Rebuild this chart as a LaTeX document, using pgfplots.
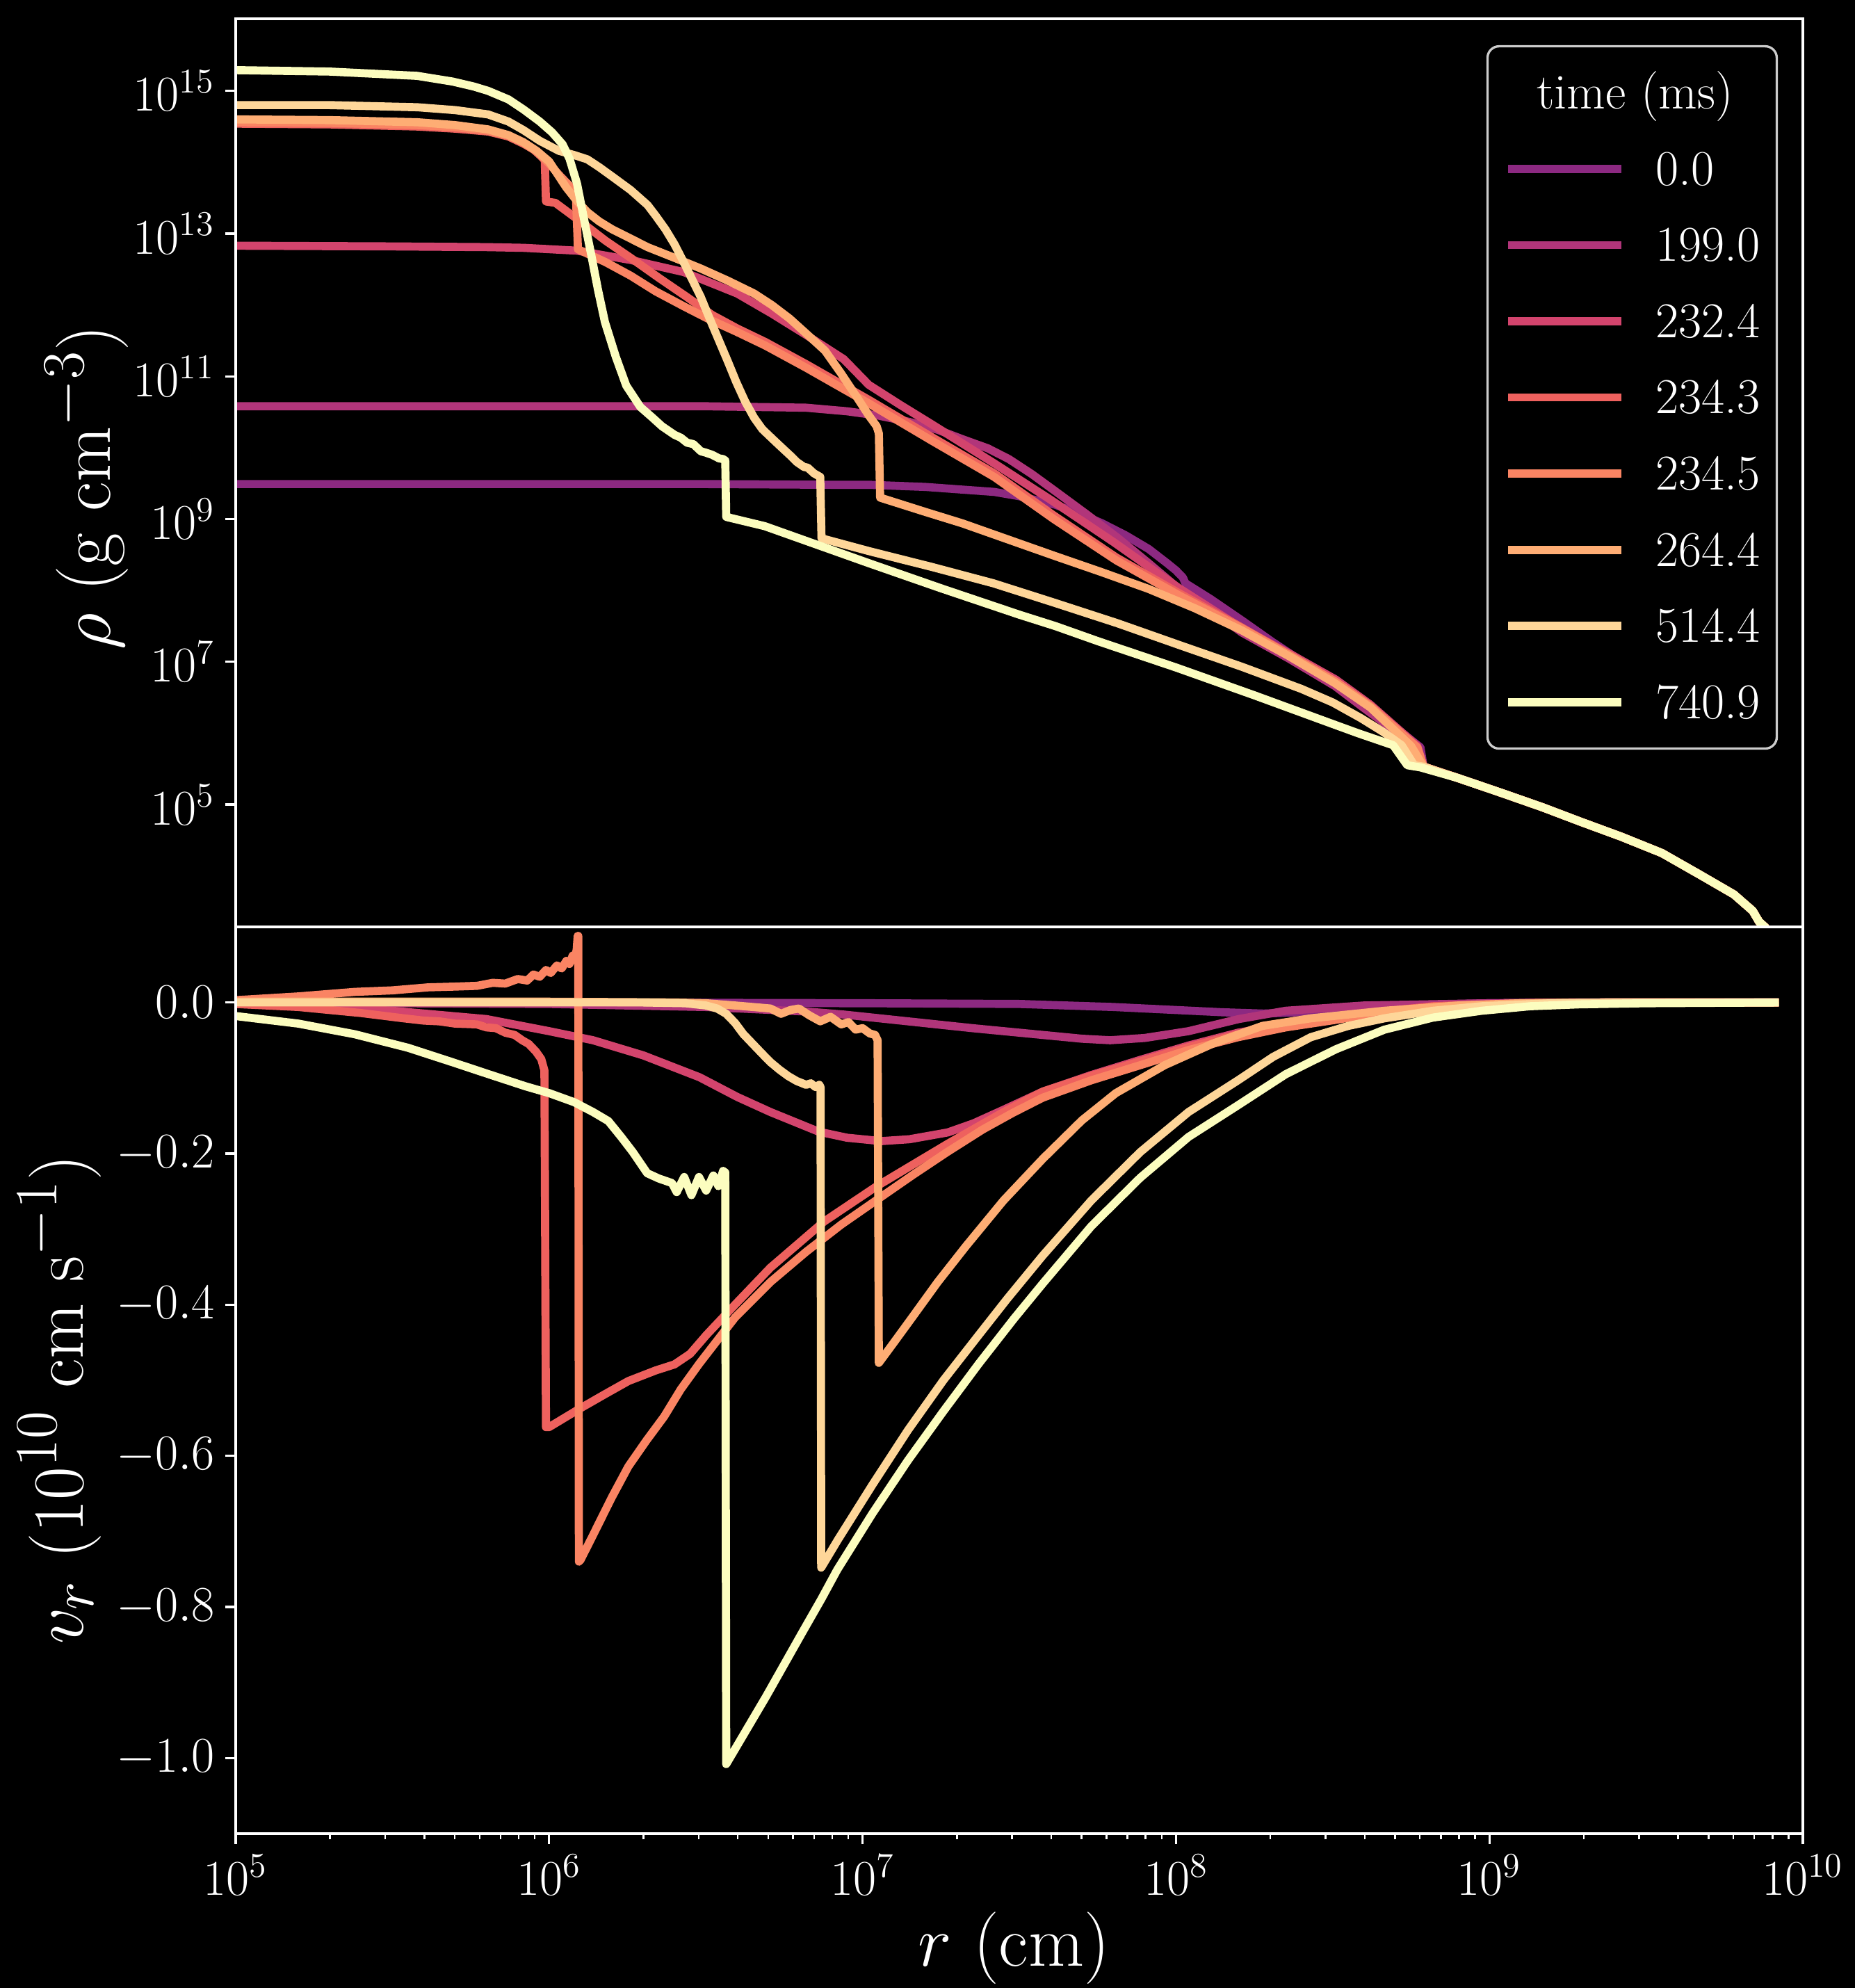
\documentclass[border=0pt]{standalone}
\usepackage{pgfplots}
\pgfplotsset{compat=1.18}

\definecolor{m0}{RGB}{140,41,129}
\definecolor{m1}{RGB}{177,53,122}
\definecolor{m2}{RGB}{211,68,109}
\definecolor{m3}{RGB}{238,97,94}
\definecolor{m4}{RGB}{250,132,99}
\definecolor{m5}{RGB}{254,173,116}
\definecolor{m6}{RGB}{254,214,153}
\definecolor{m7}{RGB}{252,253,191}
\definecolor{legedge}{RGB}{204,204,204}

\pgfplotsset{
  panel/.style={
    scale only axis, width=540.96pt,
    xmin=5, xmax=10,
    axis line style={white, line width=0.8pt},
    major tick style={white, line width=0.8pt},
    minor tick style={white, line width=0.6pt},
    major tick length=3.5pt, minor tick length=2pt,
    tick align=outside,
    ticklabel style={white, font=\fontsize{17.28}{20}\selectfont, inner sep=3.5pt},
    axis on top,
    every axis plot/.append style={line width=2.8pt, line join=round, line cap=rect},
  },
}

\begin{document}
\begin{tikzpicture}
\path[use as bounding box, fill=black] (0,0) rectangle (640.32pt,686.16pt);

% ---------------- top panel: density ----------------
\begin{axis}[panel,
  at={(81.36pt,366.24pt)}, anchor=south west, height=313.44pt,
  ymin=3.285, ymax=16.01,
  xtick=\empty, minor xtick={},
  ytick={5,7,9,11,13,15},
  yticklabels={$10^{5}$,$10^{7}$,$10^{9}$,$10^{11}$,$10^{13}$,$10^{15}$},
  ytick pos=left,
  ylabel={$\rho$ (g cm$^{-3}$)},
  ylabel style={at={(axis description cs:-0.0683,0.484)}, anchor=south,
    text=white, inner sep=0pt, font=\fontsize{24.88}{30}\selectfont},
  legend cell align=left,
  legend image code/.code={\draw[#1, line width=2.8pt, line cap=butt] (0pt,0pt) -- (38.9pt,0pt);},
  legend style={at={(1,1)}, anchor=north east, xshift=-8.6pt, yshift=-9.1pt,
    fill=black, draw=legedge, line width=0.8pt, rounded corners=4pt,
    text=white, font=\fontsize{17.28}{20}\selectfont,
    inner xsep=5.8pt, inner ysep=10.4pt, row sep=15.1pt,
    nodes={inner sep=0pt, text height=11.2pt, text depth=0pt},
    /tikz/every odd column/.style={column sep=10.5pt}},
]
\addlegendimage{empty legend}
\addlegendentry{\hspace*{-41pt}time (ms)}

\addplot[m0] coordinates {(5.00,9.49) (6.00,9.49) (6.50,9.49) (6.90,9.48) (7.02,9.48) (7.20,9.45) (7.42,9.38) (7.50,9.32) (7.615,9.20) (7.69,9.08) (7.764,8.94) (7.84,8.77) (7.913,8.58) (7.972,8.38) (8.00,8.28) (8.022,8.18) (8.03,8.10) (8.11,7.88) (8.21,7.58) (8.307,7.28) (8.41,6.98) (8.507,6.70) (8.60,6.40) (8.70,6.08) (8.78,5.80) (8.79,5.53) (8.90,5.37) (9.04,5.16) (9.17,4.96) (9.29,4.76) (9.42,4.55) (9.55,4.32) (9.67,4.02) (9.78,3.74) (9.84,3.51) (9.86,3.36) (9.88,3.28) (9.91,3.10)};
\addlegendentry{0.0}

\addplot[m1] coordinates {(5.00,10.58) (6.00,10.58) (6.50,10.58) (6.82,10.56) (6.95,10.51) (7.05,10.45) (7.15,10.36) (7.24,10.25) (7.318,10.12) (7.40,9.99) (7.467,9.84) (7.54,9.63) (7.615,9.39) (7.714,9.07) (7.813,8.74) (7.913,8.38) (8.01,8.02) (8.11,7.73) (8.21,7.41) (8.358,7.05) (8.507,6.66) (8.60,6.35) (8.77,5.80) (8.79,5.53) (8.90,5.37) (9.04,5.16) (9.17,4.96) (9.29,4.76) (9.42,4.55) (9.55,4.32) (9.67,4.02) (9.78,3.74) (9.84,3.51) (9.86,3.36) (9.88,3.28) (9.91,3.10)};
\addlegendentry{199.0}

\addplot[m2] coordinates {(5.00,12.83) (5.50,12.82) (5.80,12.81) (5.92,12.80) (6.09,12.76) (6.26,12.63) (6.43,12.46) (6.60,12.16) (6.71,11.88) (6.82,11.58) (6.94,11.24) (7.02,10.88) (7.12,10.60) (7.22,10.33) (7.42,9.78) (7.60,9.27) (7.80,8.68) (8.01,8.03) (8.21,7.47) (8.36,7.12) (8.51,6.75) (8.62,6.40) (8.77,5.82) (8.79,5.53) (8.90,5.37) (9.04,5.16) (9.17,4.96) (9.29,4.76) (9.42,4.55) (9.55,4.32) (9.67,4.02) (9.78,3.74) (9.84,3.51) (9.86,3.36) (9.88,3.28) (9.91,3.10)};
\addlegendentry{232.4}

\addplot[m3] coordinates {(5.00,14.54) (5.30,14.53) (5.58,14.50) (5.70,14.47) (5.805,14.43) (5.87,14.36) (5.918,14.26) (5.95,14.18) (5.97,14.10) (5.986,14.03) (5.990,13.45) (6.02,13.43) (6.10,13.17) (6.18,12.90) (6.26,12.66) (6.35,12.38) (6.44,12.11) (6.52,11.86) (6.60,11.67) (6.69,11.48) (6.82,11.17) (6.94,10.87) (7.02,10.67) (7.22,10.15) (7.42,9.64) (7.61,9.05) (7.81,8.46) (8.01,7.96) (8.21,7.48) (8.36,7.10) (8.51,6.72) (8.62,6.38) (8.77,5.80) (8.79,5.53) (8.90,5.37) (9.04,5.16) (9.17,4.96) (9.29,4.76) (9.42,4.55) (9.55,4.32) (9.67,4.02) (9.78,3.74) (9.84,3.51) (9.86,3.36) (9.88,3.28) (9.91,3.10)};
\addlegendentry{234.3}

\addplot[m4] coordinates {(5.00,14.56) (5.30,14.55) (5.58,14.52) (5.70,14.49) (5.805,14.44) (5.87,14.37) (5.918,14.27) (5.96,14.15) (6.00,13.98) (6.03,13.83) (6.054,13.72) (6.085,13.58) (6.092,12.78) (6.18,12.60) (6.26,12.41) (6.34,12.19) (6.43,11.98) (6.51,11.80) (6.60,11.62) (6.69,11.43) (6.82,11.12) (6.94,10.82) (7.02,10.62) (7.22,10.10) (7.42,9.59) (7.61,9.00) (7.81,8.42) (8.01,7.93) (8.21,7.47) (8.36,7.10) (8.51,6.72) (8.62,6.38) (8.77,5.80) (8.79,5.53) (8.90,5.37) (9.04,5.16) (9.17,4.96) (9.29,4.76) (9.42,4.55) (9.55,4.32) (9.67,4.02) (9.78,3.74) (9.84,3.51) (9.86,3.36) (9.88,3.28) (9.91,3.10)};
\addlegendentry{234.5}

\addplot[m5] coordinates {(5.00,14.60) (5.30,14.59) (5.58,14.56) (5.70,14.52) (5.805,14.46) (5.87,14.38) (5.918,14.28) (5.96,14.16) (6.00,14.01) (6.054,13.65) (6.09,13.45) (6.122,13.30) (6.16,13.17) (6.201,13.06) (6.26,12.93) (6.314,12.81) (6.40,12.66) (6.484,12.51) (6.57,12.34) (6.654,12.16) (6.71,12.00) (6.767,11.81) (6.82,11.60) (6.88,11.36) (6.93,11.05) (6.98,10.72) (7.02,10.45) (7.045,10.30) (7.052,10.20) (7.056,9.30) (7.20,9.10) (7.318,8.94) (7.46,8.72) (7.615,8.48) (7.76,8.26) (7.913,8.02) (8.06,7.75) (8.21,7.44) (8.36,7.08) (8.507,6.70) (8.62,6.36) (8.75,5.82) (8.79,5.53) (8.90,5.37) (9.04,5.16) (9.17,4.96) (9.29,4.76) (9.42,4.55) (9.55,4.32) (9.67,4.02) (9.78,3.74) (9.84,3.51) (9.86,3.36) (9.88,3.28) (9.91,3.10)};
\addlegendentry{264.4}

\addplot[m6] coordinates {(5.00,14.80) (5.30,14.80) (5.58,14.77) (5.70,14.73) (5.805,14.67) (5.87,14.57) (5.918,14.45) (5.97,14.30) (6.031,14.16) (6.08,14.10) (6.122,14.04) (6.16,13.93) (6.201,13.80) (6.26,13.61) (6.314,13.40) (6.34,13.25) (6.371,13.06) (6.40,12.85) (6.428,12.61) (6.456,12.36) (6.484,12.11) (6.512,11.81) (6.541,11.51) (6.57,11.21) (6.597,10.92) (6.625,10.65) (6.654,10.42) (6.68,10.26) (6.711,10.13) (6.74,10.01) (6.767,9.90) (6.79,9.80) (6.813,9.73) (6.825,9.72) (6.845,9.64) (6.865,9.59) (6.869,8.73) (7.021,8.55) (7.22,8.33) (7.417,8.10) (7.61,7.83) (7.813,7.54) (8.02,7.22) (8.21,6.93) (8.40,6.62) (8.50,6.43) (8.59,6.21) (8.66,6.02) (8.72,5.83) (8.76,5.55) (8.79,5.53) (8.90,5.37) (9.04,5.16) (9.17,4.96) (9.29,4.76) (9.42,4.55) (9.55,4.32) (9.67,4.02) (9.78,3.74) (9.84,3.51) (9.86,3.36) (9.88,3.28) (9.91,3.10)};
\addlegendentry{514.4}

\addplot[m7] coordinates {(5.00,15.29) (5.30,15.27) (5.579,15.21) (5.692,15.13) (5.76,15.06) (5.805,15.00) (5.87,14.88) (5.918,14.74) (5.97,14.57) (6.009,14.42) (6.043,14.25) (6.065,14.05) (6.089,13.70) (6.111,13.21) (6.134,12.71) (6.156,12.21) (6.178,11.76) (6.213,11.27) (6.246,10.87) (6.291,10.57) (6.33,10.42) (6.36,10.30) (6.40,10.18) (6.42,10.14) (6.44,10.07) (6.46,10.05) (6.484,9.95) (6.50,9.93) (6.52,9.90) (6.542,9.85) (6.555,9.84) (6.562,9.82) (6.565,9.03) (6.688,8.90) (7.021,8.38) (7.25,8.03) (7.50,7.66) (7.615,7.50) (7.75,7.29) (8.00,6.92) (8.25,6.53) (8.48,6.16) (8.58,6.00) (8.693,5.83) (8.738,5.55) (8.78,5.52) (8.90,5.37) (9.04,5.16) (9.17,4.96) (9.29,4.76) (9.42,4.55) (9.55,4.32) (9.67,4.02) (9.78,3.74) (9.84,3.51) (9.86,3.36) (9.88,3.28) (9.91,3.10)};
\addlegendentry{740.9}
\end{axis}

% ---------------- bottom panel: velocity ----------------
\begin{axis}[panel,
  at={(81.36pt,53.28pt)}, anchor=south west, height=312.96pt,
  ymin=-1.1, ymax=0.1,
  ytick={-1.0,-0.8,-0.6,-0.4,-0.2,0.0},
  yticklabel style={/pgf/number format/.cd, fixed, fixed zerofill, precision=1, /tikz/.cd},
  xtick={5,6,7,8,9,10},
  xticklabels={$10^{5}$,$10^{6}$,$10^{7}$,$10^{8}$,$10^{9}$,$10^{10}$},
  minor xtick={5.30103,5.47712,5.60206,5.69897,5.77815,5.84510,5.90309,5.95424,
               6.30103,6.47712,6.60206,6.69897,6.77815,6.84510,6.90309,6.95424,
               7.30103,7.47712,7.60206,7.69897,7.77815,7.84510,7.90309,7.95424,
               8.30103,8.47712,8.60206,8.69897,8.77815,8.84510,8.90309,8.95424,
               9.30103,9.47712,9.60206,9.69897,9.77815,9.84510,9.90309,9.95424},
  xtick pos=left, ytick pos=left,
  xlabel={$r$ (cm)},
  xlabel style={at={(axis description cs:0.4965,-0.0859)}, anchor=north,
    text=white, inner sep=0pt, font=\fontsize{24.88}{30}\selectfont},
  ylabel={$v_r$ ($10^{10}$ cm s$^{-1}$)},
  ylabel style={at={(axis description cs:-0.0856,0.479)}, anchor=south,
    text=white, inner sep=0pt, font=\fontsize{24.88}{30}\selectfont},
]
\addplot[m0] coordinates {(5.00,0) (6.00,0) (7.00,-0.001) (7.50,-0.002) (7.80,-0.006) (8.00,-0.010) (8.15,-0.013) (8.28,-0.0147) (8.45,-0.012) (8.55,-0.008) (8.665,-0.005) (8.80,-0.003) (9.00,-0.001) (9.30,0) (9.91,0)};

\addplot[m1] coordinates {(5.00,0) (5.50,-0.001) (6.00,-0.002) (6.50,-0.006) (6.82,-0.012) (6.94,-0.016) (7.10,-0.023) (7.35,-0.034) (7.575,-0.043) (7.70,-0.048) (7.79,-0.050) (7.90,-0.047) (8.04,-0.038) (8.20,-0.022) (8.35,-0.011) (8.60,-0.004) (9.00,-0.001) (9.30,0) (9.91,0)};

\addplot[m2] coordinates {(5.00,-0.002) (5.30,-0.006) (5.50,-0.011) (5.80,-0.022) (6.00,-0.038) (6.14,-0.050) (6.30,-0.070) (6.48,-0.099) (6.60,-0.125) (6.706,-0.145) (6.86,-0.171) (6.95,-0.179) (7.06,-0.1835) (7.15,-0.181) (7.272,-0.172) (7.354,-0.160) (7.45,-0.142) (7.575,-0.118) (7.73,-0.096) (7.886,-0.076) (8.04,-0.057) (8.198,-0.040) (8.35,-0.029) (8.51,-0.021) (8.66,-0.012) (8.82,-0.005) (9.10,-0.001) (9.40,0) (9.91,0)};

\addplot[m3] coordinates {(5.00,-0.002) (5.20,-0.006) (5.40,-0.014) (5.536,-0.021) (5.60,-0.024) (5.65,-0.025) (5.70,-0.028) (5.769,-0.029) (5.80,-0.033) (5.83,-0.034) (5.86,-0.040) (5.89,-0.043) (5.914,-0.050) (5.935,-0.055) (5.958,-0.065) (5.975,-0.075) (5.985,-0.090) (5.990,-0.562) (6.00,-0.562) (6.10,-0.537) (6.18,-0.518) (6.253,-0.501) (6.34,-0.487) (6.40,-0.479) (6.45,-0.465) (6.502,-0.440) (6.593,-0.400) (6.706,-0.351) (6.877,-0.290) (7.046,-0.243) (7.272,-0.187) (7.45,-0.145) (7.575,-0.118) (7.73,-0.097) (7.886,-0.078) (8.04,-0.059) (8.198,-0.042) (8.35,-0.030) (8.51,-0.022) (8.66,-0.012) (8.82,-0.005) (9.10,-0.001) (9.40,0) (9.91,0)};

\addplot[m4] coordinates {(5.00,0.003) (5.20,0.008) (5.38,0.014) (5.50,0.016) (5.614,0.020) (5.70,0.021) (5.77,0.022) (5.82,0.026) (5.86,0.025) (5.90,0.031) (5.93,0.029) (5.95,0.037) (5.97,0.034) (5.99,0.043) (6.005,0.039) (6.025,0.049) (6.04,0.045) (6.055,0.055) (6.065,0.051) (6.075,0.062) (6.082,0.058) (6.088,0.070) (6.091,0.088) (6.093,0.088) (6.095,-0.740) (6.10,-0.738) (6.14,-0.705) (6.20,-0.655) (6.253,-0.614) (6.31,-0.580) (6.367,-0.548) (6.42,-0.512) (6.48,-0.4775) (6.593,-0.417) (6.706,-0.370) (6.82,-0.330) (6.932,-0.294) (7.05,-0.260) (7.158,-0.229) (7.27,-0.198) (7.384,-0.168) (7.48,-0.146) (7.575,-0.126) (7.73,-0.103) (7.886,-0.083) (8.04,-0.063) (8.198,-0.046) (8.35,-0.033) (8.51,-0.023) (8.66,-0.013) (8.82,-0.0064) (9.13,-0.001) (9.40,0) (9.91,0)};

\addplot[m5] coordinates {(5.00,0.001) (6.00,0.001) (6.40,0) (6.50,-0.001) (6.593,-0.004) (6.65,-0.006) (6.706,-0.008) (6.74,-0.015) (6.77,-0.010) (6.797,-0.008) (6.83,-0.017) (6.865,-0.025) (6.898,-0.019) (6.932,-0.029) (6.955,-0.026) (6.978,-0.036) (7.00,-0.034) (7.023,-0.041) (7.04,-0.043) (7.048,-0.050) (7.052,-0.477) (7.10,-0.450) (7.158,-0.417) (7.24,-0.370) (7.329,-0.323) (7.45,-0.262) (7.575,-0.207) (7.70,-0.156) (7.808,-0.120) (7.964,-0.083) (8.12,-0.054) (8.276,-0.031) (8.43,-0.021) (8.665,-0.011) (8.90,-0.004) (9.10,-0.001) (9.40,0) (9.91,0)};

\addplot[m6] coordinates {(5.00,0) (6.30,0) (6.434,-0.001) (6.50,-0.004) (6.536,-0.008) (6.565,-0.015) (6.593,-0.027) (6.62,-0.042) (6.65,-0.055) (6.68,-0.068) (6.706,-0.079) (6.735,-0.089) (6.763,-0.0975) (6.79,-0.104) (6.82,-0.109) (6.835,-0.107) (6.85,-0.112) (6.862,-0.109) (6.866,-0.112) (6.868,-0.748) (6.92,-0.712) (6.976,-0.675) (7.032,-0.638) (7.145,-0.566) (7.258,-0.500) (7.371,-0.440) (7.462,-0.392) (7.575,-0.335) (7.73,-0.262) (7.886,-0.198) (8.04,-0.145) (8.198,-0.103) (8.31,-0.072) (8.43,-0.046) (8.55,-0.031) (8.665,-0.021) (8.82,-0.011) (8.975,-0.005) (9.20,-0.001) (9.40,0) (9.91,0)};

\addplot[m7] coordinates {(5.00,-0.018) (5.20,-0.028) (5.379,-0.042) (5.55,-0.060) (5.691,-0.079) (5.80,-0.094) (5.925,-0.111) (6.00,-0.120) (6.08,-0.132) (6.14,-0.145) (6.189,-0.157) (6.23,-0.178) (6.267,-0.198) (6.313,-0.226) (6.35,-0.233) (6.392,-0.239) (6.407,-0.251) (6.431,-0.231) (6.454,-0.255) (6.478,-0.231) (6.501,-0.249) (6.524,-0.229) (6.540,-0.243) (6.555,-0.223) (6.562,-0.225) (6.565,-1.008) (6.693,-0.918) (6.806,-0.835) (6.868,-0.790) (6.919,-0.751) (7.032,-0.676) (7.145,-0.606) (7.258,-0.541) (7.371,-0.478) (7.484,-0.418) (7.575,-0.372) (7.73,-0.296) (7.886,-0.232) (8.04,-0.178) (8.198,-0.136) (8.35,-0.095) (8.51,-0.062) (8.665,-0.036) (8.82,-0.020) (8.975,-0.011) (9.13,-0.005) (9.287,-0.0025) (9.50,-0.001) (9.91,0)};
\end{axis}
\end{tikzpicture}
\end{document}
